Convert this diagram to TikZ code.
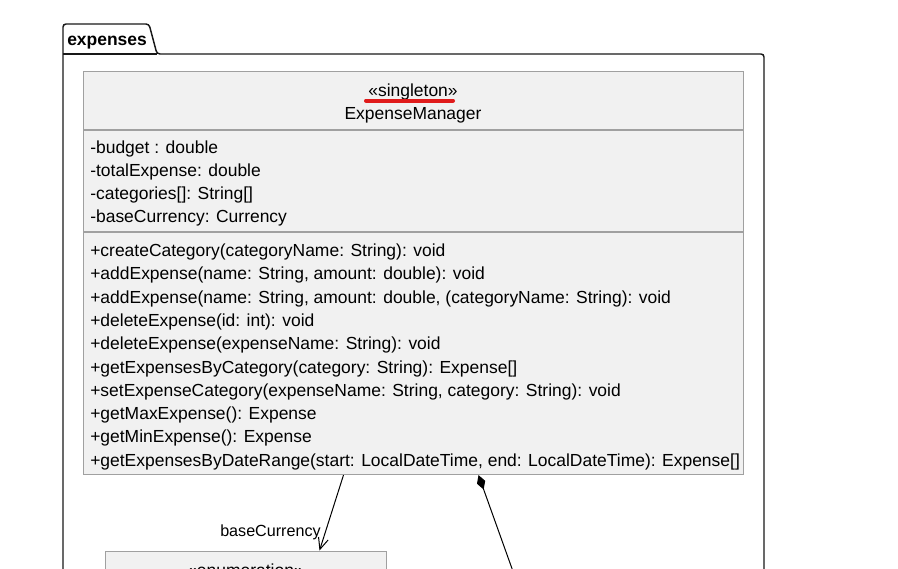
\documentclass[tikz,border=0pt]{standalone}
\usepackage{fontspec}
\setmainfont{Liberation Sans}
\usetikzlibrary{arrows.meta}

\definecolor{boxfill}{HTML}{F1F1F1}
\definecolor{boxline}{HTML}{A0A0A0}
\definecolor{pkgline}{HTML}{181818}
\definecolor{markred}{HTML}{E01B1B}

\tikzset{
	umltxt/.style={font=\fontsize{13.1pt}{17.5pt}\selectfont, inner sep=0pt, anchor=base west},
	umlmid/.style={umltxt, anchor=base},
	classbox/.style={draw=boxline, fill=boxfill, line width=0.8pt, inner sep=0pt, anchor=north west},
	pkgline/.style={draw=pkgline, line width=1.1pt},
	assoc/.style={line width=0.75pt, -{Straight Barb[length=8.5pt, width=7.5pt]}},
	compo/.style={line width=0.75pt, {Diamond[length=11.5pt, width=6.5pt, fill=black]}-}
}

\begin{document}
\begin{tikzpicture}[x=0.75pt, y=-0.75pt]

	\useasboundingbox (0,0) rectangle (898,568);

	% package frame
	\draw[pkgline, rounded corners=2.25pt] (63,620) -- (63,24) -- (149,24) -- (157,54) -- (764,54) -- (764,620);
	\draw[pkgline] (63,54) -- (157,54);
	\node[umltxt, font=\fontsize{13.1pt}{17.5pt}\selectfont\bfseries] (pkgname) at (67,45) {expenses};

	% manager class
	\node[classbox, minimum width=495pt, minimum height=302.25pt] (mgr) at (83,71) {};
	\draw[boxline, line width=0.8pt] (mgr.west |- 0,130) -- (mgr.east |- 0,130);
	\draw[boxline, line width=0.8pt] (mgr.west |- 0,232) -- (mgr.east |- 0,232);

	\node[umlmid] (stereo) at (413,96) {«singleton»};
	\node[umlmid] (mgrname) at (413,119.3) {ExpenseManager};
	\draw[markred, line width=3pt, line cap=round] (366,100.5) -- (453,100.5);

	\node[umltxt] (budget) at (90,153) {-budget : double};
	\node[umltxt] (total) at (90,176) {-totalExpense: double};
	\node[umltxt] (cats) at (90,199) {-categories[]: String[]};
	\node[umltxt] (basecur) at (90,222) {-baseCurrency: Currency};

	\node[umltxt] (mA) at (90,256.5) {+createCategory(categoryName: String): void};
	\node[umltxt] (mB) at (90,279.8) {+addExpense(name: String, amount: double): void};
	\node[umltxt] (mC) at (90,303.1) {+addExpense(name: String, amount: double, (categoryName: String): void};
	\node[umltxt] (mD) at (90,326.4) {+deleteExpense(id: int): void};
	\node[umltxt] (mE) at (90,349.7) {+deleteExpense(expenseName: String): void};
	\node[umltxt] (mF) at (90,373) {+getExpensesByCategory(category: String): Expense[]};
	\node[umltxt] (mG) at (90,396.3) {+setExpenseCategory(expenseName: String, category: String): void};
	\node[umltxt] (mH) at (90,419.6) {+getMaxExpense(): Expense};
	\node[umltxt] (mI) at (90,442.9) {+getMinExpense(): Expense};
	\node[umltxt] (mJ) at (90,466.2) {+getExpensesByDateRange(start: LocalDateTime, end: LocalDateTime): Expense[]};

	% currency enum (cut at the bottom)
	\node[classbox, minimum width=210.75pt, minimum height=75pt] (currency) at (105,550.5) {};
	\node[umlmid] (enumst) at (245.5,576) {«enumeration»};

	% links
	\coordinate (cmpend) at (512.5,570);
	\draw[assoc] (mgr.south -| 343.5,0) -- (currency.north -| 319.5,0);
	\node[umltxt, font=\fontsize{12.1pt}{16pt}\selectfont] (curlabel) at (220,536) {baseCurrency};
	\draw[compo] (mgr.south -| 478.5,0) -- (cmpend);

\end{tikzpicture}
\end{document}
